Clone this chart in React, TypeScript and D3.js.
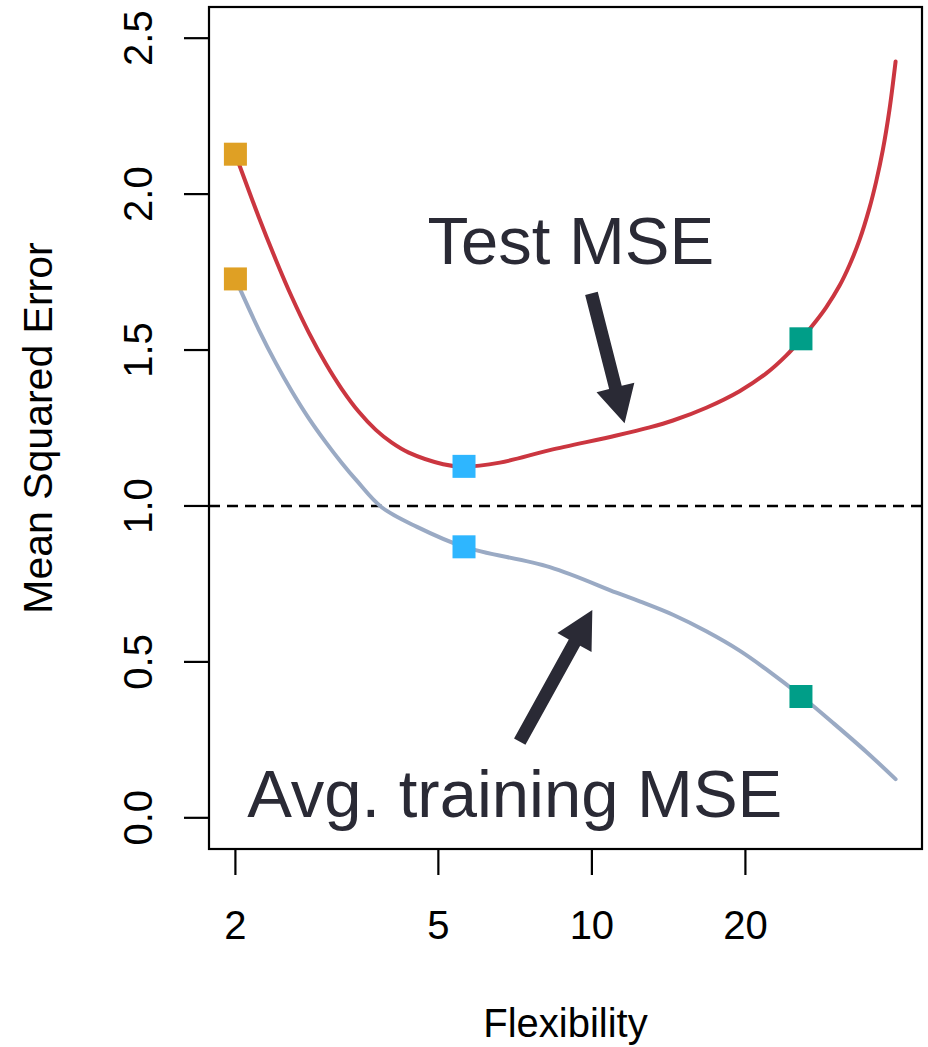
import React from "react";
import * as d3 from "d3";

// Flexibility (x) and MSE values
const testFlex = [2, 2.223, 2.401, 2.58, 2.786, 3.009, 3.233, 3.491, 3.77, 4.052, 4.375, 5.11, 5.614, 6.6, 8.27, 11.17, 12.98, 14.42, 16.76, 19.48, 21.97, 24.04, 25.79, 27.54, 28.8, 30.58, 31.99, 33.48, 35.01, 36.09, 37.18, 38.32, 39.4];
const testMSE = [2.128, 1.926, 1.789, 1.67, 1.556, 1.456, 1.375, 1.302, 1.244, 1.203, 1.171, 1.134, 1.126, 1.139, 1.179, 1.226, 1.252, 1.274, 1.315, 1.368, 1.425, 1.482, 1.537, 1.594, 1.637, 1.706, 1.772, 1.853, 1.955, 2.04, 2.14, 2.27, 2.425];

const trainFlex = [2, 2.223, 2.401, 2.58, 2.786, 3.009, 3.233, 3.459, 3.87, 4.54, 5.614, 8.27, 11.17, 12.41, 14.42, 16.76, 19.48, 22.15, 25.79, 29.68, 34.5, 39.4];
const trainMSE = [1.728, 1.565, 1.458, 1.368, 1.281, 1.204, 1.138, 1.081, 0.996, 0.933, 0.869, 0.804, 0.722, 0.694, 0.651, 0.598, 0.536, 0.472, 0.389, 0.305, 0.212, 0.124];

// highlighted fits
const markFlex = [2, 5.614, 25.7];
const markTest = [2.128, 1.127, 1.536];
const markTrain = [1.728, 0.869, 0.389];
const markColors = ["#DFA024", "#2EB6FF", "#009E88"];

const xTicks = [2, 5, 10, 20];
const yTicks = [0, 0.5, 1, 1.5, 2, 2.5];
const yLim = [0, 2.5];

// annotations (data coords)
const testLabel = { text: "Test MSE", x: 9.09, y: 1.776 };
const trainLabel = { text: "Avg. training MSE", x: 7.06, y: 0.003 };
const testArrow = { x0: 9.98, y0: 1.682, x1: 11.59, y1: 1.265 };
const trainArrow = { x0: 7.22, y0: 0.244, x1: 10.02, y1: 0.666 };

const W = 928, H = 1047;
const L = 209, R = 922, T = 7, B = 849;
const FONT = "'Liberation Sans', Arial, Helvetica, sans-serif";
const INK = "#2A2A35";

function arrowPath(x0: number, y0: number, x1: number, y1: number) {
  const dx = x1 - x0, dy = y1 - y0;
  const len = Math.hypot(dx, dy);
  const ux = dx / len, uy = dy / len;
  const px = -uy, py = ux;
  const headLen = 37, headHalf = 19.5, shaftHalf = 6.5;
  const bx = x1 - ux * headLen, by = y1 - uy * headLen;
  const pts = [
    [x0 + px * shaftHalf, y0 + py * shaftHalf],
    [bx + px * shaftHalf, by + py * shaftHalf],
    [bx + px * headHalf, by + py * headHalf],
    [x1, y1],
    [bx - px * headHalf, by - py * headHalf],
    [bx - px * shaftHalf, by - py * shaftHalf],
    [x0 - px * shaftHalf, y0 - py * shaftHalf],
  ];
  return "M" + pts.map((p) => p.join(",")).join("L") + "Z";
}

export default function App() {
  const xmin = d3.min(testFlex.concat(trainFlex)) as number;
  const xmax = d3.max(testFlex.concat(trainFlex)) as number;
  const lo = Math.log10(xmin), hi = Math.log10(xmax);
  const pad = (hi - lo) * 0.04;
  const x = d3.scaleLog().domain([Math.pow(10, lo - pad), Math.pow(10, hi + pad)]).range([L, R]);
  const ypad = (yLim[1] - yLim[0]) * 0.04;
  const y = d3.scaleLinear().domain([yLim[0] - ypad, yLim[1] + ypad]).range([B, T]);

  const line = d3
    .line<[number, number]>()
    .x((d) => x(d[0]))
    .y((d) => y(d[1]))
    .curve(d3.curveCatmullRom.alpha(0.5));

  const testPath = line(testFlex.map((f, i) => [f, testMSE[i]]) as [number, number][]) || "";
  const trainPath = line(trainFlex.map((f, i) => [f, trainMSE[i]]) as [number, number][]) || "";
  const sq = 23;

  return (
    <svg width={W} height={H} style={{ position: "absolute", left: 0, top: 0, background: "#fff" }} fontFamily={FONT}>
      <rect x={0} y={0} width={W} height={H} fill="#fff" />
      {/* dashed reference line */}
      <line x1={L} x2={R} y1={y(1)} y2={y(1)} stroke="#000" strokeWidth={2.5} strokeDasharray="11,7" />
      <path d={trainPath} fill="none" stroke="#9AAAC4" strokeWidth={4} strokeLinecap="round" />
      <path d={testPath} fill="none" stroke="#CB3640" strokeWidth={4} strokeLinecap="round" />
      {markFlex.map((f, i) => (
        <g key={"m" + i}>
          <rect x={x(f) - sq / 2} y={y(markTest[i]) - sq / 2} width={sq} height={sq} fill={markColors[i]} />
          <rect x={x(f) - sq / 2} y={y(markTrain[i]) - sq / 2} width={sq} height={sq} fill={markColors[i]} />
        </g>
      ))}
      {/* arrows */}
      <path d={arrowPath(x(testArrow.x0), y(testArrow.y0), x(testArrow.x1), y(testArrow.y1))} fill={INK} />
      <path d={arrowPath(x(trainArrow.x0), y(trainArrow.y0), x(trainArrow.x1), y(trainArrow.y1))} fill={INK} />
      {/* labels */}
      <text x={x(testLabel.x)} y={y(testLabel.y)} textAnchor="middle" fontSize={67} fill={INK}>
        {testLabel.text}
      </text>
      <text x={x(trainLabel.x)} y={y(trainLabel.y)} textAnchor="middle" fontSize={67} fill={INK}>
        {trainLabel.text}
      </text>
      {/* box */}
      <rect x={L} y={T} width={R - L} height={B - T} fill="none" stroke="#000" strokeWidth={2.2} />
      {/* y axis */}
      {yTicks.map((t) => (
        <g key={"y" + t}>
          <line x1={184} x2={L} y1={y(t)} y2={y(t)} stroke="#000" strokeWidth={2.2} />
          <text transform={`translate(152,${y(t)}) rotate(-90)`} textAnchor="middle" fontSize={40} fill="#000">
            {t.toFixed(1)}
          </text>
        </g>
      ))}
      {/* x axis */}
      {xTicks.map((t) => (
        <g key={"x" + t}>
          <line x1={x(t)} x2={x(t)} y1={B} y2={875} stroke="#000" strokeWidth={2.2} />
          <text x={x(t)} y={939} textAnchor="middle" fontSize={40} fill="#000">
            {t}
          </text>
        </g>
      ))}
      <text x={(L + R) / 2} y={1037} textAnchor="middle" fontSize={40} fill="#000">
        Flexibility
      </text>
      <text transform={`translate(52,${(T + B) / 2}) rotate(-90)`} textAnchor="middle" fontSize={41} fill="#000">
        Mean Squared Error
      </text>
    </svg>
  );
}
